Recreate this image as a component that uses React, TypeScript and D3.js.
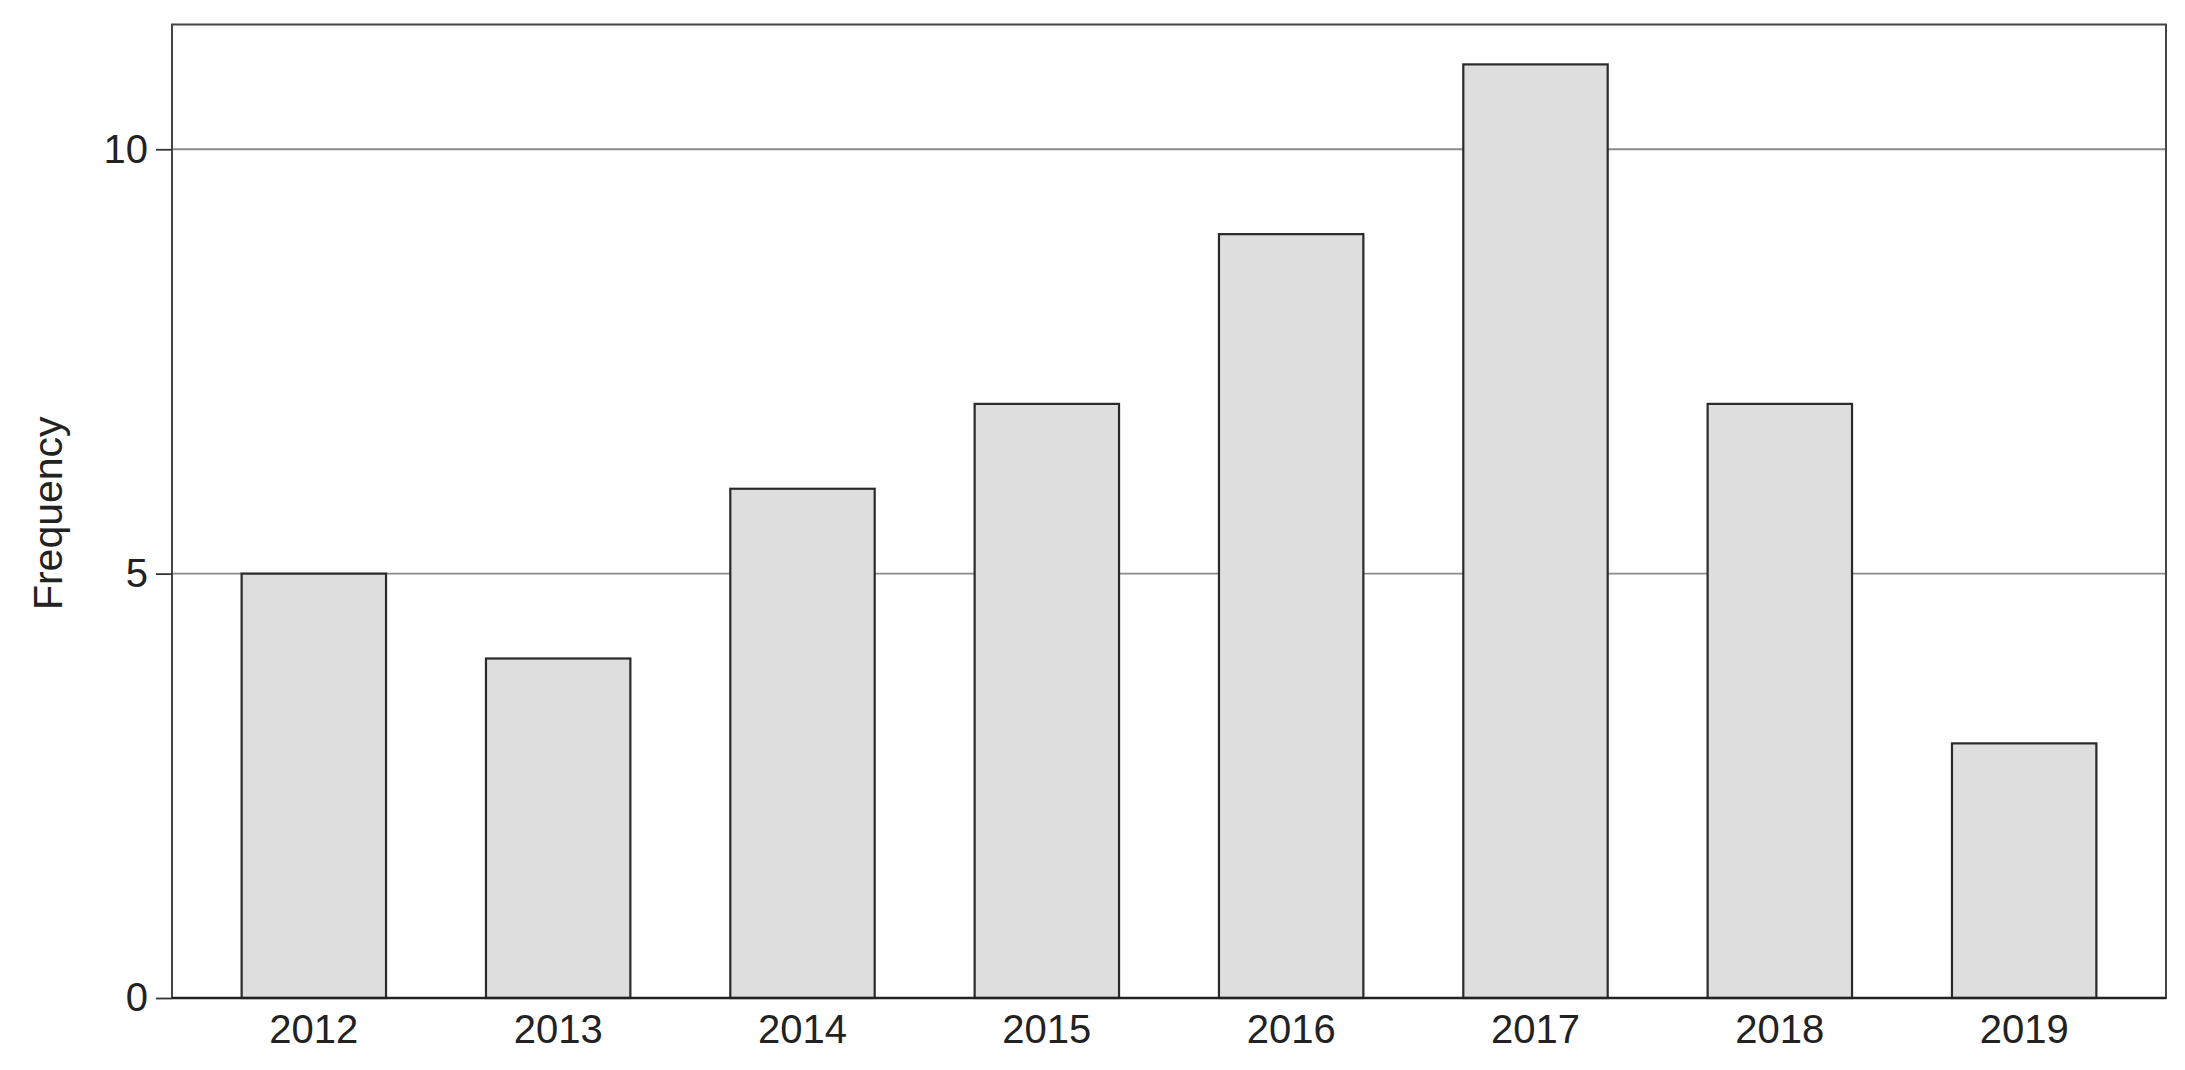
import React, { useRef, useEffect } from "react";
import * as d3 from "d3";

const years = ["2012", "2013", "2014", "2015", "2016", "2017", "2018", "2019"];
const frequencies = [5, 4, 6, 7, 9, 11, 7, 3];
const yTicks = [0, 5, 10];
const gridValues = [5, 10];

const WIDTH = 2185;
const HEIGHT = 1070;

const App = () => {
  const svgRef = useRef<SVGSVGElement>(null);

  useEffect(() => {
    const svg = d3.select(svgRef.current);
    svg.selectAll("*").remove();

    const margin = { top: 24.5, right: 19, bottom: 72, left: 172 };
    const innerWidth = WIDTH - margin.left - margin.right;
    const innerHeight = HEIGHT - margin.top - margin.bottom;

    const x = d3
      .scaleBand()
      .domain(years)
      .range([0, innerWidth])
      .paddingInner(0.409)
      .paddingOuter(0.285);

    const y = d3.scaleLinear().domain([0, 11.47]).range([innerHeight, 0]);

    const chart = svg
      .append("g")
      .attr("transform", `translate(${margin.left},${margin.top})`);

    // grid lines behind bars
    chart
      .selectAll(".grid")
      .data(gridValues)
      .enter()
      .append("line")
      .attr("x1", 0)
      .attr("x2", innerWidth)
      .attr("y1", (d) => y(d))
      .attr("y2", (d) => y(d))
      .attr("stroke", "#8a8a8a")
      .attr("stroke-width", 1.8);

    chart
      .selectAll(".bar")
      .data(frequencies)
      .enter()
      .append("rect")
      .attr("x", (d, i) => x(years[i]))
      .attr("y", (d) => y(d))
      .attr("width", x.bandwidth())
      .attr("height", (d) => innerHeight - y(d))
      .attr("fill", "#dedede")
      .attr("stroke", "#2a2a2a")
      .attr("stroke-width", 2.2);

    // frame
    chart
      .append("rect")
      .attr("x", 0)
      .attr("y", 0)
      .attr("width", innerWidth)
      .attr("height", innerHeight)
      .attr("fill", "none")
      .attr("stroke", "#444")
      .attr("stroke-width", 2);

    chart
      .append("line")
      .attr("x1", 0)
      .attr("x2", innerWidth)
      .attr("y1", innerHeight)
      .attr("y2", innerHeight)
      .attr("stroke", "#222")
      .attr("stroke-width", 2.5);

    const yAxis = chart
      .append("g")
      .call(d3.axisLeft(y).tickValues(yTicks).tickSize(16).tickPadding(8));
    yAxis.select(".domain").remove();
    yAxis.selectAll("line").attr("stroke", "#333").attr("stroke-width", 1.8);
    yAxis
      .selectAll("text")
      .attr("fill", "#222")
      .style("font-family", "'Liberation Sans', Arial, sans-serif")
      .style("font-size", "40px");

    const xAxis = chart
      .append("g")
      .attr("transform", `translate(0,${innerHeight})`)
      .call(d3.axisBottom(x).tickSize(0).tickPadding(17));
    xAxis.select(".domain").remove();
    xAxis
      .selectAll("text")
      .attr("fill", "#222")
      .attr("dy", "0.71em")
      .style("font-family", "'Liberation Sans', Arial, sans-serif")
      .style("font-size", "40px");

    svg
      .append("text")
      .attr("transform", `translate(62,${margin.top + innerHeight / 2 + 2}) rotate(-90)`)
      .attr("text-anchor", "middle")
      .attr("fill", "#222")
      .style("font-family", "'Liberation Sans', Arial, sans-serif")
      .style("font-size", "41px")
      .text("Frequency");
  }, []);

  return (
    <div style={{ position: "absolute", left: 0, top: 0, background: "#fff" }}>
      <svg ref={svgRef} width={WIDTH} height={HEIGHT} style={{ display: "block" }}></svg>
    </div>
  );
};

export default App;
